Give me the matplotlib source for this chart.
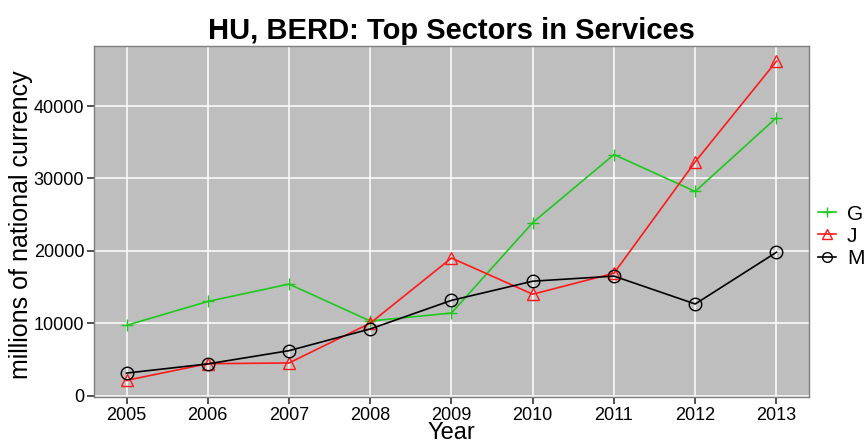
import matplotlib
matplotlib.use("Agg")
import matplotlib.pyplot as plt
from matplotlib.lines import Line2D

plt.rcParams["font.family"] = ["Liberation Sans", "DejaVu Sans"]

years = [2005, 2006, 2007, 2008, 2009, 2010, 2011, 2012, 2013]
sector_g = [9700, 13000, 15400, 10300, 11400, 23900, 33300, 28200, 38400]
sector_j = [2100, 4400, 4500, 10000, 19000, 14000, 16900, 32300, 46200]
sector_m = [3100, 4370, 6200, 9200, 13150, 15800, 16500, 12650, 19800]
y_ticks = [0, 10000, 20000, 30000, 40000]

series = [
    ("G", sector_g, "#1ec81e", "+", "full"),
    ("J", sector_j, "#ff1a1a", "^", "none"),
    ("M", sector_m, "#000000", "o", "none"),
]

fig = plt.figure(figsize=(8.64, 4.44), dpi=100)
ax = fig.add_axes([0.1088, 0.1059, 0.8275, 0.7905])
ax.set_facecolor("#bebebe")

for name, values, color, marker, fill in series:
    ax.plot(years, values, color=color, lw=1.2, marker=marker, markersize=9,
            fillstyle=fill, markeredgewidth=1.0, zorder=3)

ax.set_xlim(2004.6, 2013.4)
ax.set_ylim(-200, 48300)
ax.set_xticks(years)
ax.set_yticks(y_ticks)
ax.grid(True, color="white", lw=1.1, zorder=0)
ax.set_axisbelow(True)
for spine in ax.spines.values():
    spine.set_color("#7f7f7f")
    spine.set_linewidth(1.0)
ax.tick_params(axis="both", length=5, width=1.2, color="#333333",
               labelsize=13, labelcolor="black", pad=2)

ax.set_title("HU, BERD: Top Sectors in Services", fontsize=21,
             fontweight="bold", pad=5)
ax.set_xlabel("Year", fontsize=17, labelpad=-1)
ax.set_ylabel("millions of national currency", fontsize=18)
ax.yaxis.set_label_coords(-0.085, 0.49)

handles = [
    Line2D([], [], color=c, marker=m, fillstyle=f, markersize=7, lw=1.2)
    for _, _, c, m, f in series
]
fig.legend(handles, [s[0] for s in series], loc="center left",
           bbox_to_anchor=(0.944, 0.468), frameon=False, fontsize=15,
           handlelength=0.9, handletextpad=0.5, labelspacing=0.15,
           borderpad=0.1, borderaxespad=0)

fig.savefig("out.png", dpi=100)
